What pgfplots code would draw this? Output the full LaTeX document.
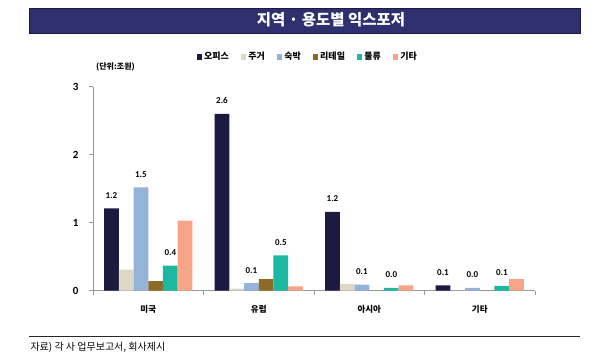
\documentclass[border=0pt]{standalone}
\usepackage{fontspec}
\setmainfont{Carlito}
\newfontfamily\kr{Noto Sans CJK KR}
\usepackage{pgfplots}
\pgfplotsset{compat=1.18}
\definecolor{cOff}{HTML}{1C1A40}
\definecolor{cRes}{HTML}{DCD8C3}
\definecolor{cHot}{HTML}{95B2D8}
\definecolor{cRet}{HTML}{8E6A27}
\definecolor{cLog}{HTML}{1BB8A2}
\definecolor{cEtc}{HTML}{F8A487}
\definecolor{cTitle}{HTML}{2D2F6F}
\pgfplotsset{
  /pgf/number format/assume math mode=true,
  sq/.style={legend image code/.code={\fill[##1] (0pt,-2.7pt) rectangle (5.4pt,2.7pt);}},
  lab/.style={nodes near coords={\pgfmathprintnumber[fixed,zerofill,precision=1]{\pgfplotspointmeta}}},
}
\begin{document}
\begin{tikzpicture}
\useasboundingbox (0pt,0pt) rectangle (600pt,358pt);
\fill[cTitle, draw=cOff, line width=0.8pt] (29pt,325pt) rectangle (580pt,350pt);
\node[text=white, font=\kr\bfseries\fontsize{15.5}{18}\selectfont] at (331pt,338pt) {지역 · 용도별 익스포저};
\node[font=\kr\bfseries\fontsize{8}{10}\selectfont] at (115.5pt,291pt) {(단위:조원)};
\draw[line width=1pt, color=black!85] (29pt,21pt) -- (580pt,21pt);
\node[anchor=west, font=\kr\fontsize{10}{12}\selectfont] at (27pt,10.5pt) {자료) 각 사 업무보고서, 회사제시};
\begin{axis}[
  at={(148.25pt,67.3pt)}, anchor=origin, scale only axis,
  width=442pt, height=204pt,
  ybar=0pt, bar width=14.7pt,
  xmin=-0.5, xmax=3.5, ymin=0, ymax=3,
  xtick={-0.5,0.5,1.5,2.5,3.5}, xticklabels={},
  extra x ticks={0,1,2,3},
  extra x tick labels={미국,유럽,아시아,기타},
  extra x tick style={major tick length=0pt},
  xticklabel style={font=\kr\bfseries\fontsize{8.5}{10}\selectfont, yshift=-11pt},
  ytick={0,1,2,3},
  yticklabel style={font=\bfseries\fontsize{11}{12}\selectfont, xshift=-7pt},
  axis x line*=bottom, axis y line*=left,
  axis line style={-, draw=gray!80, line width=0.7pt},
  tick align=outside, major tick length=4pt,
  tick style={draw=gray!80, line width=0.7pt},
  every node near coord/.append style={font=\bfseries\fontsize{9}{10}\selectfont, anchor=center, yshift=13pt, text=black},
  legend columns=6,
  legend style={at={(0.486,1.146)}, anchor=center, draw=none, fill=none,
    font=\kr\bfseries\fontsize{9}{10}\selectfont, inner sep=0pt,
    /tikz/every even column/.append style={column sep=10pt}},
  clip=false,
]
\addplot[fill=cOff, draw=none, sq, lab] coordinates {(0,1.21) (1,2.60) (2,1.16) (3,0.08)};
\addlegendentry{오피스}
\addplot[fill=cRes, draw=none, sq] coordinates {(0,0.31) (1,0.03) (2,0.10) (3,0)};
\addlegendentry{주거}
\addplot[fill=cHot, draw=none, sq, lab] coordinates {(0,1.52) (1,0.11) (2,0.09) (3,0.04)};
\addlegendentry{숙박}
\addplot[fill=cRet, draw=none, sq] coordinates {(0,0.14) (1,0.17) (2,0) (3,0)};
\addlegendentry{리테일}
\addplot[fill=cLog, draw=none, sq, lab] coordinates {(0,0.37) (1,0.52) (2,0.04) (3,0.07)};
\addlegendentry{물류}
\addplot[fill=cEtc, draw=none, sq] coordinates {(0,1.03) (1,0.065) (2,0.08) (3,0.17)};
\addlegendentry{기타}
\end{axis}
\end{tikzpicture}
\end{document}
